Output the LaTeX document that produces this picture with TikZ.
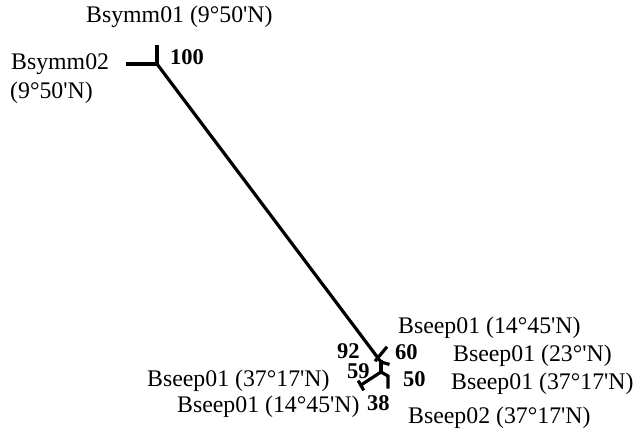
\documentclass[tikz,border=0pt]{standalone}
\usepackage{fontspec}
\setmainfont{Liberation Serif}
\newcommand{\apos}{\textquotesingle}
\begin{document}
\begin{tikzpicture}[x=1pt,y=-1pt,
  branch/.style={line width=3.2pt,line cap=rect},
  leaflabel/.style={anchor=west,inner sep=0pt,font=\fontsize{23.8}{25}\selectfont},
  support/.style={anchor=west,inner sep=0pt,font=\fontsize{22.5}{25}\selectfont\bfseries}]
\useasboundingbox (0,0) rectangle (635,433);
% tree nodes
\coordinate (root) at (157,64);
\coordinate (lsymm1) at (157,47);
\coordinate (lsymm2) at (128,64);
\coordinate (nAx) at (376,360);
\coordinate (lA) at (386,348);
\coordinate (nB) at (381,362);
\coordinate (lB) at (388,364);
\coordinate (nC) at (381,372);
\coordinate (nD) at (361,385);
\coordinate (dD1) at (359,382);
\coordinate (dD2) at (363,389);
\coordinate (nE) at (388,376);
\coordinate (lE) at (388,387);
% branches
\draw[branch] (lsymm1) -- (root);
\draw[branch] (lsymm2) -- (root);
\draw[branch] (root) -- (nB);
\draw[branch] (nAx) -- (lA);
\draw[branch] (nB) -- (lB);
\draw[branch] (nB) -- (nC);
\draw[branch] (nC) -- (nD);
\draw[branch] (dD1) -- (dD2);
\draw[branch] (nC) -- (nE) -- (lE);
% leaf labels
\node[leaflabel] (t1) at (86,17) {Bsymm01 (9°50\apos N)};
\node[leaflabel] (t2) at (11,64) {Bsymm02};
\node[leaflabel] (t3) at (10,93) {(9°50\apos N)};
\node[leaflabel] (t4) at (398,328) {Bseep01 (14°45\apos N)};
\node[leaflabel] (t5) at (453,356) {Bseep01 (23°\apos N)};
\node[leaflabel] (t6) at (451,384) {Bseep01 (37°17\apos N)};
\node[leaflabel] (t7) at (408,418) {Bseep02 (37°17\apos N)};
\node[leaflabel] (t8) at (147,381) {Bseep01 (37°17\apos N)};
\node[leaflabel] (t9) at (177,407) {Bseep01 (14°45\apos N)};
% support values
\node[support] (s1) at (170,57) {100};
\node[support] (s2) at (337,351) {92};
\node[support] (s3) at (395,352) {60};
\node[support] (s4) at (347,371) {59};
\node[support] (s5) at (403,379) {50};
\node[support] (s6) at (367,403) {38};
\end{tikzpicture}
\end{document}
